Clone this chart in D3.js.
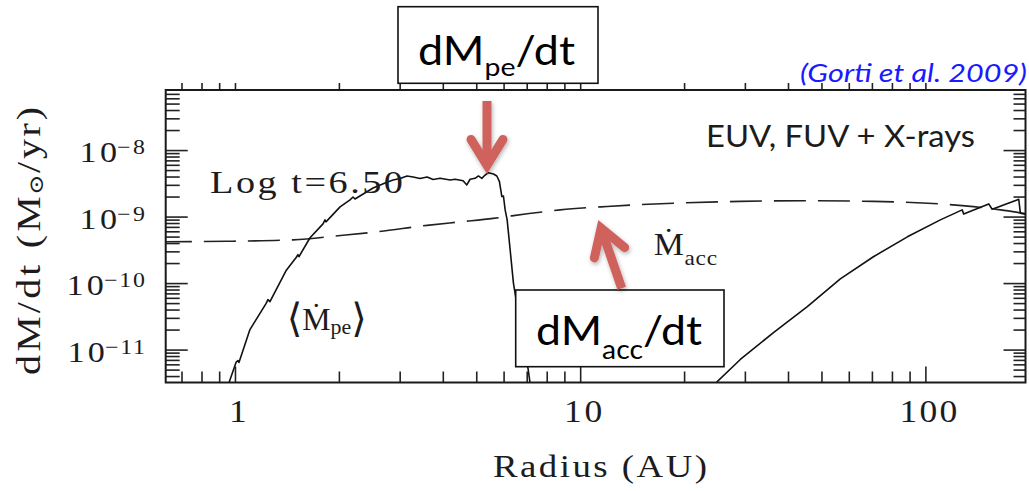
<!DOCTYPE html>
<html>
<head>
<meta charset="utf-8">
<script src="https://cdn.jsdelivr.net/npm/d3@7"></script>
<style>
  html, body { margin: 0; padding: 0; background: #fff; }
  svg { display: block; }
</style>
</head>
<body>
<svg id="chart" width="1029" height="491"></svg>
<script>
// Time-averaged photoevaporative mass-loss rate, inner region (AU, Msun/yr)
const peRadius = [0.942, 1.007, 1.020, 1.027, 1.105, 1.230, 1.246, 1.263, 1.405, 1.502, 1.522, 1.532,
  1.650, 1.799, 1.823, 1.835, 2.016, 2.154, 2.198, 2.227, 2.512, 2.721, 2.871, 3.008, 3.151, 3.281,
  3.438, 3.602, 3.750, 3.929, 4.200, 4.342, 4.580, 4.695, 4.799, 4.962, 5.073, 5.189, 5.305, 5.423,
  5.607, 5.736, 5.836, 5.931, 5.994, 6.063, 6.144, 6.268, 6.407, 6.700, 7.069, 7.212];
const peRate = [2.36e-12, 6.41e-12, 6.86e-12, 6.41e-12, 2.00e-11, 4.91e-11, 5.64e-11, 5.26e-11, 1.53e-10,
  2.40e-10, 2.67e-10, 2.49e-10, 4.80e-10, 7.77e-10, 8.92e-10, 8.33e-10, 1.40e-9, 1.78e-9, 1.97e-9,
  1.84e-9, 2.69e-9, 3.20e-9, 3.55e-9, 3.74e-9, 4.08e-9, 3.94e-9, 3.74e-9, 3.94e-9, 3.61e-9, 3.76e-9,
  3.55e-9, 3.64e-9, 3.46e-9, 2.99e-9, 3.64e-9, 3.76e-9, 4.08e-9, 3.76e-9, 4.22e-9, 4.57e-9, 4.37e-9,
  4.08e-9, 3.35e-9, 2.00e-9, 2.04e-9, 1.26e-9, 8.92e-10, 3.17e-10, 1.00e-10, 2.38e-11, 5.03e-12, 2.36e-12];

// Photoevaporative mass-loss rate, outer disk
const outerRadius = [23.8, 29.1, 36.3, 45.5, 56.7, 70.7, 88.7, 110.5, 127.8, 129.1, 152.6, 156.1, 186.4, 188.5, 197.6];
const outerRate = [2.61e-12, 7.10e-12, 1.80e-11, 4.43e-11, 1.16e-10, 2.49e-10, 4.96e-10, 8.92e-10,
  1.26e-9, 1.09e-9, 1.55e-9, 1.29e-9, 1.82e-9, 1.12e-9, 1.06e-9];

// Viscous accretion rate through the disk
const accRadius = [0.606, 0.948, 1.473, 2.056, 2.580, 3.602, 4.489, 5.596, 7.022, 8.752, 11.97, 18.61,
  29.09, 45.50, 70.69, 110.5, 137.8, 165.0, 197.6];
const accRate = [4.18e-10, 4.25e-10, 4.47e-10, 5.23e-10, 5.90e-10, 7.38e-10, 8.33e-10, 9.40e-10, 1.10e-9,
  1.26e-9, 1.42e-9, 1.59e-9, 1.69e-9, 1.73e-9, 1.69e-9, 1.55e-9, 1.41e-9, 1.26e-9, 1.10e-9];

// Axis tick labels
const xTickValues = [1, 10, 100];
const xTickLabels = ["1", "10", "100"];
const yTickValues = [1e-8, 1e-9, 1e-10, 1e-11];
const yTickExponents = ["\u22128", "\u22129", "\u221210", "\u221211"];

const SERIF = "'Liberation Serif', 'DejaVu Serif', serif";
const SANS = "Lato, 'Open Sans', 'Noto Sans', sans-serif";
const RED = "#cf625c";
const INK = "#1c1c1c";

const svg = d3.select("#chart");
const frame = { left: 165.7, right: 1025.5, top: 90, bottom: 382.5 };

const x = d3.scaleLog().domain([0.63, 195]).range([frame.left, frame.right]);
const y = d3.scaleLog().domain([3.2e-12, 8e-8]).range([frame.bottom, frame.top]);

const isMajor = v => Math.abs(Math.log10(v) - Math.round(Math.log10(v))) < 1e-6;
const xAll = x.ticks().filter(v => x(v) > frame.left + 1 && x(v) < frame.right - 1);
const yAll = y.ticks().filter(v => y(v) > frame.top + 1 && y(v) < frame.bottom - 1);
const xMinor = xAll.filter(v => !isMajor(v)), xMajor = xAll.filter(isMajor);
const yMinor = yAll.filter(v => !isMajor(v)), yMajor = yAll.filter(isMajor);

// Tick marks drawn with d3 axes (axis lines themselves come from the frame)
function ticks(axis, tx, ty) {
  const g = svg.append("g").attr("transform", `translate(${tx},${ty})`).call(axis);
  g.select(".domain").remove();
  g.selectAll(".tick line").attr("stroke", "#222").attr("stroke-width", 1.6);
  g.selectAll(".tick text").remove();
  return g;
}
ticks(d3.axisRight(y).tickValues(yMinor).tickSize(14).tickFormat(""), frame.left, 0);
ticks(d3.axisRight(y).tickValues(yMajor).tickSize(22).tickFormat(""), frame.left, 0);
ticks(d3.axisLeft(y).tickValues(yMinor).tickSize(12).tickFormat(""), frame.right, 0);
ticks(d3.axisLeft(y).tickValues(yMajor).tickSize(22).tickFormat(""), frame.right, 0);
ticks(d3.axisTop(x).tickValues(xMinor).tickSize(11).tickFormat(""), 0, frame.bottom);
ticks(d3.axisTop(x).tickValues(xMajor).tickSize(16).tickFormat(""), 0, frame.bottom);
ticks(d3.axisTop(x).tickValues(xAll).tickSize(7).tickFormat(""), 0, frame.top);

// Curves
svg.append("clipPath").attr("id", "plotClip").append("rect")
  .attr("x", frame.left).attr("y", frame.top)
  .attr("width", frame.right - frame.left).attr("height", frame.bottom - frame.top);

const plot = svg.append("g").attr("clip-path", "url(#plotClip)");
const line = d3.line().x(d => x(d[0])).y(d => y(d[1]));
const smooth = d3.line().x(d => x(d[0])).y(d => y(d[1])).curve(d3.curveMonotoneX);

plot.append("path").datum(d3.zip(accRadius, accRate))
  .attr("d", smooth).attr("fill", "none").attr("stroke", "#222")
  .attr("stroke-width", 1.6).attr("stroke-dasharray", "32,12");
plot.append("path").datum(d3.zip(peRadius, peRate))
  .attr("d", line).attr("fill", "none").attr("stroke", "#111").attr("stroke-width", 1.6)
  .attr("stroke-linejoin", "round");
plot.append("path").datum(d3.zip(outerRadius, outerRate))
  .attr("d", line).attr("fill", "none").attr("stroke", "#111").attr("stroke-width", 1.6)
  .attr("stroke-linejoin", "round");

// Frame
svg.append("rect")
  .attr("x", frame.left).attr("y", frame.top)
  .attr("width", frame.right - frame.left).attr("height", frame.bottom - frame.top)
  .attr("fill", "none").attr("stroke", "#1a1a1a").attr("stroke-width", 2);

// Lays out a row of text pieces (with sub/superscripts) over a given width.
// Part of the widening goes into the glyphs, the rest into letter spacing.
function run(parent, segs, o) {
  const g = parent.append("g");
  const share = o.glyphShare == null ? 0.55 : o.glyphShare;
  const holders = segs.map(s => g.append("g"));
  const nodes = segs.map((s, i) => holders[i].append("text")
    .attr("font-family", o.family || SERIF)
    .attr("font-size", s.size)
    .attr("font-style", o.style || null)
    .attr("fill", o.color || INK)
    .text(s.t));
  const lens = nodes.map(n => n.node().getComputedTextLength());
  const natural = d3.sum(lens);
  const k = o.width ? o.width / natural : (o.scale || 1);
  const sx = 1 + (k - 1) * share;
  const total = natural * k;
  let cx = o.anchor === "middle" ? o.x - total / 2 : o.anchor === "end" ? o.x - total : o.x;
  nodes.forEach((n, i) => {
    const chars = Array.from(segs[i].t).length;
    const target = lens[i] * k;
    const inner = target / sx;
    holders[i].attr("transform", `translate(${cx},${o.y + (segs[i].dy || 0)}) scale(${sx},1)`);
    if (chars === 1) {
      n.attr("x", (inner - lens[i]) / 2).attr("y", 0);
    } else {
      n.attr("x", 0).attr("y", 0).attr("textLength", inner).attr("lengthAdjust", "spacing");
    }
    cx += target;
  });
  return g;
}

// Tick labels
yTickValues.forEach((v, i) => {
  run(svg, [{ t: "10", size: 30 }, { t: yTickExponents[i], size: 21, dy: -8 }],
    { x: 145, y: y(v) + 12, anchor: "end", scale: 1.25 });
});
xTickValues.forEach((v, i) => {
  run(svg, [{ t: xTickLabels[i], size: 32 }], { x: x(v) + 3, y: 422, anchor: "middle", scale: 1.2 });
});

// Axis titles
run(svg, [{ t: "Radius (AU)", size: 31 }], { x: 493, y: 477, width: 214 });
const yTitle = svg.append("g").attr("transform", "translate(39.5,241) rotate(-90)");
run(yTitle, [{ t: "dM/dt (M", size: 33 }, { t: "\u2299", size: 20, dy: 3 }, { t: "/yr)", size: 33 }],
  { x: 0, y: 0, anchor: "middle", width: 268 });

// In-plot labels
run(svg, [{ t: "Log t=6.50", size: 32 }], { x: 210, y: 193, width: 193 });
run(svg, [{ t: "\u27E8", size: 40, dy: 2 }, { t: "\u1E40", size: 32 }, { t: "pe", size: 22, dy: 4 }, { t: "\u27E9", size: 40, dy: 2 }],
  { x: 286.7, y: 330, width: 80 });
run(svg, [{ t: "\u1E40", size: 32 }, { t: "acc", size: 22, dy: 10 }], { x: 653, y: 255, width: 64 });

run(svg, [{ t: "EUV, FUV + X-rays", size: 30 }],
  { x: 706, y: 147, width: 269, family: SANS, glyphShare: 1 });
run(svg, [{ t: "(Gorti et al. 2009)", size: 26 }],
  { x: 800, y: 82, width: 227, family: SANS, style: "italic", color: "#1a1aff", glyphShare: 1 });

// Callout boxes
svg.append("rect").attr("x", 398).attr("y", 6.7).attr("width", 200).attr("height", 76.6)
  .attr("fill", "#fff").attr("stroke", "#111").attr("stroke-width", 1.6);
run(svg, [{ t: "dM", size: 41 }, { t: "pe", size: 26, dy: 11 }, { t: "/dt", size: 41 }],
  { x: 418, y: 65, width: 157, family: SANS, color: "#000", glyphShare: 1 });

svg.append("rect").attr("x", 515.7).attr("y", 290).attr("width", 208.3).attr("height", 76.7)
  .attr("fill", "#fff").attr("stroke", "#111").attr("stroke-width", 1.6);
run(svg, [{ t: "dM", size: 41 }, { t: "acc", size: 26, dy: 14 }, { t: "/dt", size: 41 }],
  { x: 536, y: 345, width: 166, family: SANS, color: "#000", glyphShare: 1 });

// Arrows
const defs = svg.append("defs");
defs.append("filter").attr("id", "soft").attr("x", "-30%").attr("y", "-30%").attr("width", "160%").attr("height", "160%")
  .append("feDropShadow").attr("dx", 1).attr("dy", 2).attr("stdDeviation", 2)
  .attr("flood-color", "#000").attr("flood-opacity", 0.3);

function arrow(tail, tip) {
  const w = 9, half = 31.6 * Math.PI / 180, wing = 30.5;
  const dx = tip[0] - tail[0], dy = tip[1] - tail[1], L = Math.hypot(dx, dy);
  const ux = dx / L, uy = dy / L;
  const back = (w / 2) / Math.sin(half);
  const V = [tip[0] - ux * back, tip[1] - uy * back];
  const rot = a => [-ux * Math.cos(a) + uy * Math.sin(a), -uy * Math.cos(a) - ux * Math.sin(a)];
  const r1 = rot(half), r2 = rot(-half);
  const g = svg.append("g").attr("filter", "url(#soft)");
  g.append("path")
    .attr("d", `M${tail[0]},${tail[1]}L${V[0] - ux * 4},${V[1] - uy * 4}`)
    .attr("stroke", RED).attr("stroke-width", w).attr("fill", "none");
  g.append("path")
    .attr("d", `M${V[0] + r1[0] * wing},${V[1] + r1[1] * wing}L${V[0]},${V[1]}L${V[0] + r2[0] * wing},${V[1] + r2[1] * wing}`)
    .attr("stroke", RED).attr("stroke-width", w).attr("fill", "none")
    .attr("stroke-linecap", "round").attr("stroke-linejoin", "miter").attr("stroke-miterlimit", 10);
}
arrow([487, 101], [487, 174]);
arrow([621.7, 288.3], [598.3, 220]);
</script>
</body>
</html>
